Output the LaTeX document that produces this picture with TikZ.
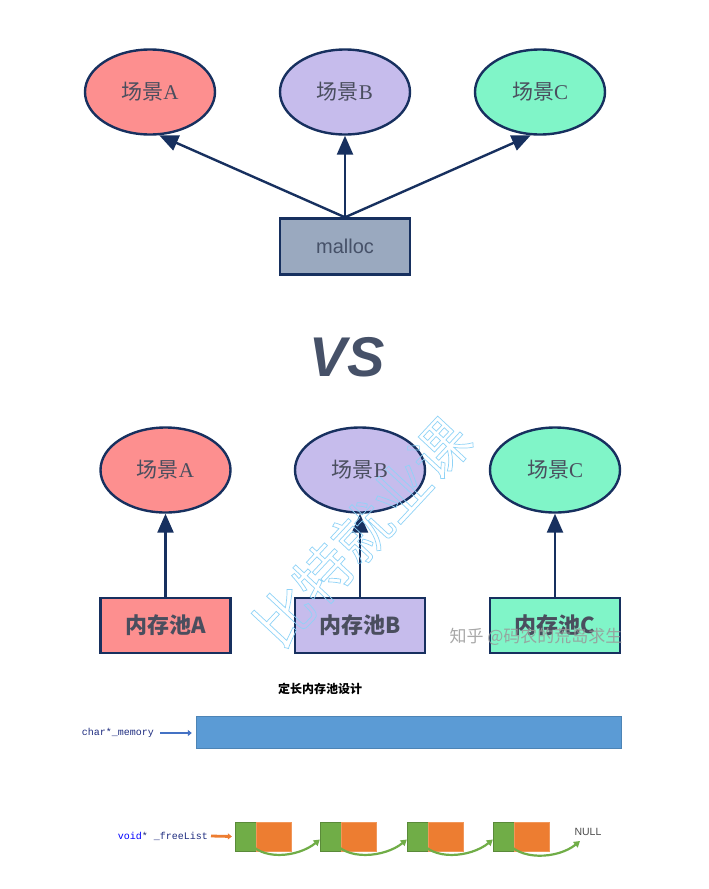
\documentclass[tikz,border=0pt]{standalone}
\usepackage{fontspec}
\setmainfont{Liberation Serif}
\newfontfamily\cjk{Noto Sans CJK SC}
\newfontfamily\sansf{Liberation Sans}
\newfontfamily\codef{Liberation Mono}
\usetikzlibrary{arrows.meta,calc,shapes.geometric}
\definecolor{navy}{HTML}{17305F}
\definecolor{redf}{HTML}{FD8F8F}
\definecolor{purf}{HTML}{C6BCEC}
\definecolor{grnf}{HTML}{80F5C8}
\definecolor{mallocf}{HTML}{9AA9BF}
\definecolor{txtg}{HTML}{4A4E5E}
\definecolor{vsc}{HTML}{465168}
\definecolor{memblue}{HTML}{5B9BD5}
\definecolor{ogreen}{HTML}{70AD47}
\definecolor{oorange}{HTML}{ED7D31}
\definecolor{arrblue}{HTML}{4472C4}
\definecolor{wmc}{HTML}{8FD3F7}
\definecolor{codeblue}{HTML}{1F2D80}
\tikzset{
  scene/.style={ellipse, draw=navy, line width=2.4pt, minimum width=130pt, minimum height=85pt, inner sep=0pt, font=\fontsize{21}{21}\selectfont, text=txtg},
  poolbox/.style={rectangle, draw=navy, line width=2.4pt, minimum width=130pt, minimum height=55pt, inner sep=0pt, font=\cjk\bfseries\fontsize{22}{22}\selectfont, text=txtg},
  conn/.style={navy, line width=2.4pt, -{Triangle[width=16pt,length=19pt]}},
  codelbl/.style={inner sep=0pt, anchor=east, font=\codef\fontsize{10}{10}\selectfont, text=codeblue},
  gblk/.style={rectangle, fill=ogreen, draw=ogreen!80!black, line width=0.3pt, minimum width=21pt, minimum height=29pt, inner sep=0pt},
  oblk/.style={rectangle, fill=oorange, draw=oorange!80!white, line width=0.3pt, minimum width=35pt, minimum height=29pt, inner sep=0pt},
  nextarr/.style={ogreen, line width=2.2pt, -{Triangle[width=7pt,length=6pt]}},
}
\begin{document}
\begin{tikzpicture}[x=1pt,y=-1pt]
\useasboundingbox (0,0) rectangle (709,889);
\fill[white] (0,0) rectangle (709,889);

% ---------- top: malloc ----------
\node[scene, fill=redf] (sa) at (150,92) {{\cjk 场景}A};
\node[scene, fill=purf] (sb) at (345,92) {{\cjk 场景}B};
\node[scene, fill=grnf] (sc) at (540,92) {{\cjk 场景}C};
\node[rectangle, draw=navy, line width=2.4pt, fill=mallocf, minimum width=130pt, minimum height=56pt, inner sep=0pt, font=\sansf\fontsize{20}{20}\selectfont, text=vsc] (m) at (345,246.5) {malloc};
\draw[conn] (m.north) -- (sa.282);
\draw[conn] (m.north) -- (sb.south);
\draw[conn] (m.north) -- (sc.258);

% ---------- VS ----------
\node[font=\sansf\bfseries\itshape\fontsize{56}{56}\selectfont, text=vsc, inner sep=0pt] (vs) at (347,357) {VS};

% ---------- bottom: memory pools ----------
\node[scene, fill=redf] (ea) at (165.5,470) {{\cjk 场景}A};
\node[scene, fill=purf] (eb) at (360,470) {{\cjk 场景}B};
\node[scene, fill=grnf] (ec) at (555,470) {{\cjk 场景}C};
\node[poolbox, fill=redf] (pa) at (165.5,625.5) {内存池A};
\node[poolbox, fill=purf] (pb) at (360,625.5) {内存池B};
\node[poolbox, fill=grnf] (pc) at (555,625.5) {内存池C};
\draw[conn] (pa.north) -- (ea.south);
\draw[conn] (pb.north) -- (eb.south);
\draw[conn] (pc.north) -- (ec.south);

% watermarks
\node[rotate=47, font=\cjk\fontsize{57}{57}\selectfont, text=wmc, inner sep=0pt] (wm1) at (362,532) {\special{pdf:literal direct 1 Tr 0.7 w}比特就业课\special{pdf:literal direct 0 Tr}};
\node[font=\cjk\fontsize{17}{17}\selectfont, text=gray!80, opacity=0.85, inner sep=0pt] (wm2) at (536,637) {知乎 @码农的荒岛求生};

% ---------- fixed-size pool design ----------
\node[font=\cjk\bfseries\fontsize{12}{12}\selectfont, inner sep=0pt] (title) at (320,689) {定长内存池设计};
\node[rectangle, fill=memblue, draw=memblue!85!black, line width=0.4pt, minimum width=425pt, minimum height=32pt, inner sep=0pt] (mem) at (408.5,732) {};
\node[codelbl] (charlbl) at (154,733) {char*\_memory};
\draw[arrblue, line width=2.8pt, -{Triangle[width=6pt,length=4pt]}] ($(charlbl.east)+(6,0)$) -- ($(mem.west)+(-4,1)$);

\node[codelbl] (freelbl) at (208,836) {\textcolor{blue}{void}* \_freeList};
\node[gblk] (g1) at (245.5,836.5) {};
\node[oblk, anchor=west] (o1) at (g1.east) {};
\node[gblk] (g2) at (330.5,836.5) {};
\node[oblk, anchor=west] (o2) at (g2.east) {};
\node[gblk] (g3) at (417.5,836.5) {};
\node[oblk, anchor=west] (o3) at (g3.east) {};
\node[gblk] (g4) at (503.5,836.5) {};
\node[oblk, anchor=west] (o4) at (g4.east) {};
\node[font=\sansf\fontsize{10.5}{10.5}\selectfont, text=black!70, inner sep=0pt] (null) at (588,832) {NULL};
\coordinate (nullend) at (580,841);
\draw[oorange, line width=2.8pt, -{Triangle[width=6pt,length=4pt]}] ($(freelbl.east)+(3,0)$) -- ($(g1.west)+(-3,0)$);

\draw[nextarr] ($(g1.center)+(2,3)$) .. controls +(12,22) and +(-22,18) .. ($(g2.west)+(0,3)$);
\draw[nextarr] ($(g2.center)+(2,3)$) .. controls +(12,22) and +(-22,18) .. ($(g3.west)+(0,3)$);
\draw[nextarr] ($(g3.center)+(2,3)$) .. controls +(12,22) and +(-22,18) .. ($(g4.west)+(0,3)$);
\draw[nextarr] ($(g4.center)+(2,3)$) .. controls +(12,22) and +(-22,18) .. (nullend);
\end{tikzpicture}
\end{document}
